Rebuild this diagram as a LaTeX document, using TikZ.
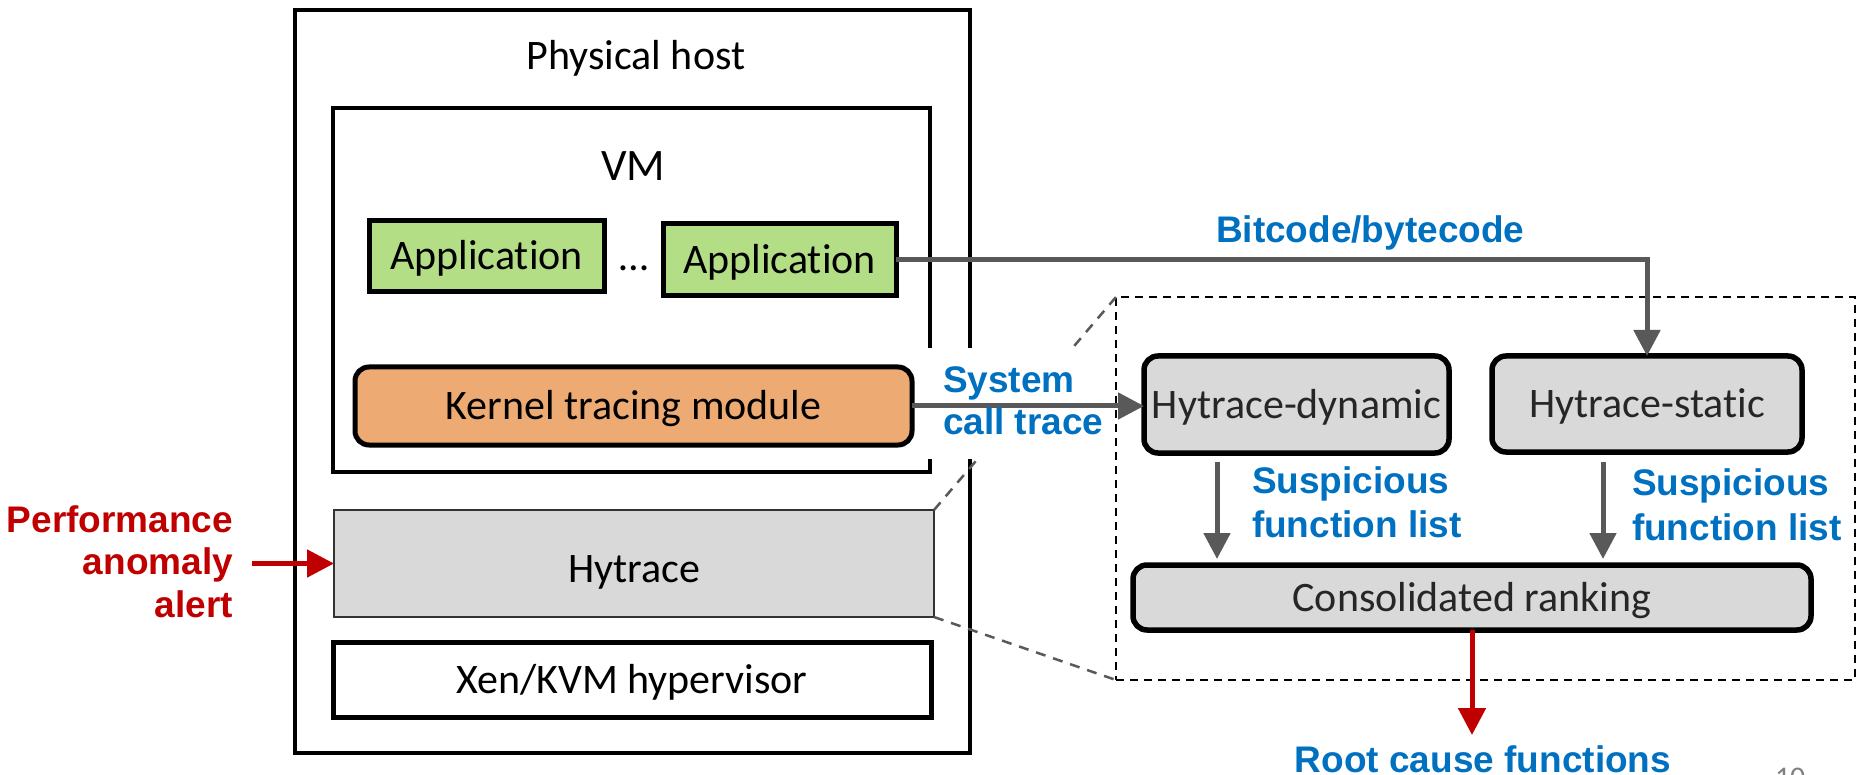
\documentclass[tikz,border=0pt]{standalone}
\usepackage{fontspec}
\setmainfont{Carlito}[Ligatures=NoCommon]
\newfontfamily\labelsans{Liberation Sans}
\usetikzlibrary{arrows.meta,calc}
\definecolor{appgreen}{RGB}{180,222,134}
\definecolor{kernorange}{RGB}{237,170,114}
\definecolor{boxgray}{RGB}{217,217,217}
\definecolor{linkgray}{RGB}{89,89,89}
\definecolor{noteblue}{RGB}{0,112,192}
\definecolor{alertred}{RGB}{192,0,0}
\definecolor{darktext}{RGB}{38,38,38}
\begin{document}
\begin{tikzpicture}[x=1pt,y=-1pt,
  every node/.style={inner sep=0pt, outer sep=0pt},
  plain/.style={font=\fontsize{42}{50}\selectfont},
  boxtext/.style={font=\fontsize{42}{50}\selectfont, text height=27pt, text depth=0pt},
  framebox/.style={draw, line width=4.5pt},
  appbox/.style={boxtext, draw, line width=5pt, fill=appgreen},
  kernbox/.style={boxtext, draw, line width=5pt, fill=kernorange, rounded corners=14pt},
  tracebox/.style={boxtext, draw=black!80, line width=2pt, fill=boxgray},
  layerbox/.style={boxtext, draw, line width=5pt},
  stagebox/.style={boxtext, draw, line width=5.5pt, fill=boxgray, rounded corners=14pt, text=darktext},
  groupbox/.style={draw, line width=2pt, dash pattern=on 8pt off 6pt},
  note/.style={font=\labelsans\bfseries\fontsize{37}{42}\selectfont, text=noteblue, align=left},
  flow/.style={draw=linkgray, line width=5pt, -{Triangle[length=26pt,width=26pt]}},
  alert/.style={draw=alertred, line width=5pt, -{Triangle[length=27pt,width=27pt]}},
  zoomedge/.style={draw=linkgray, line width=2.5pt, dash pattern=on 10pt off 8pt},
]
\useasboundingbox (0,0) rectangle (1861,775);

% physical host and its layers
\node[framebox, line width=4pt, minimum width=675pt, minimum height=743pt] (host) at (632.5,381.5) {};
\node[plain, anchor=base] (hostlabel) at (636,70) {Physical host};
\node[framebox, minimum width=597pt, minimum height=364pt] (vm) at (631.5,290) {};
\node[font=\fontsize{45}{54}\selectfont, anchor=base] (vmlabel) at (633,181) {VM};
\node[appbox, minimum width=235pt, minimum height=71pt] (app1) at (486.5,256.5) {Application};
\node[plain, anchor=base] (dots) at (634,271) {…};
\node[appbox, minimum width=233pt, minimum height=72pt] (app2) at (779.5,260) {Application};
\node[kernbox, minimum width=557pt, minimum height=78pt] (kernel) at (633.5,406) {Kernel tracing module};
\node[tracebox, text height=37pt, minimum width=600pt, minimum height=107pt] (hytrace) at (634,563.5) {Hytrace};
\node[layerbox, minimum width=598pt, minimum height=75pt] (xen) at (632,679.5) {Xen/KVM hypervisor};

% Hytrace internals
\node[groupbox, minimum width=739pt, minimum height=383pt] (group) at (1485.5,488.5) {};
\node[stagebox, minimum width=305pt, minimum height=97pt] (hdyn) at (1296.5,404.5) {Hytrace-dynamic};
\node[stagebox, minimum width=310pt, minimum height=96pt] (hstat) at (1647,404) {Hytrace-static};
\node[stagebox, minimum width=678pt, minimum height=65pt] (cons) at (1472,597.5) {Consolidated ranking};

% zoom lines from Hytrace to its internals
\draw[zoomedge] (hytrace.north east) -- (group.north west);
\draw[zoomedge] (hytrace.south east) -- (group.south west);

% connectors
\draw[flow] (app2.east) -| (hstat.north);
\fill[white] (918,348) rectangle (1108,459);
\draw[flow] (kernel.east) -- (kernel.east -| hdyn.west);
\coordinate (sx1) at (1217,0);
\coordinate (sx2) at (1603,0);
\draw[flow, shorten <=9pt, shorten >=6pt] (hdyn.south -| sx1) -- (cons.north -| sx1);
\draw[flow, shorten <=10pt, shorten >=6pt] (hstat.south -| sx2) -- (cons.north -| sx2);
\coordinate (rootend) at (1472,735);
\draw[alert] (cons.south) -- (rootend);
\coordinate (alertstart) at (252,563.5);
\draw[alert] (alertstart) -- (hytrace.west);

% labels (base anchor of a multi-line label sits on its last line)
\node[note, anchor=base west] (bitlabel) at (1216,243) {Bitcode/bytecode};
\node[note, anchor=base west] (sclabel) at (943,435) {System\\call trace};
\node[note, font=\labelsans\bfseries\fontsize{37}{44}\selectfont, anchor=base west] (susp1) at (1252,537) {Suspicious\\function list};
\node[note, font=\labelsans\bfseries\fontsize{37}{45}\selectfont, anchor=base west] (susp2) at (1632,540) {Suspicious\\function list};
\node[note, anchor=base] (rootlabel) at (1483,772) {Root cause functions};
\node[note, font=\labelsans\bfseries\fontsize{37}{42.5}\selectfont, text=alertred, align=right, anchor=base east] (alertlabel) at (233,617) {Performance\\anomaly\\alert};
\node[font=\fontsize{30}{36}\selectfont, text=gray, anchor=base west] (pagenum) at (1775,787) {10};
\end{tikzpicture}
\end{document}
